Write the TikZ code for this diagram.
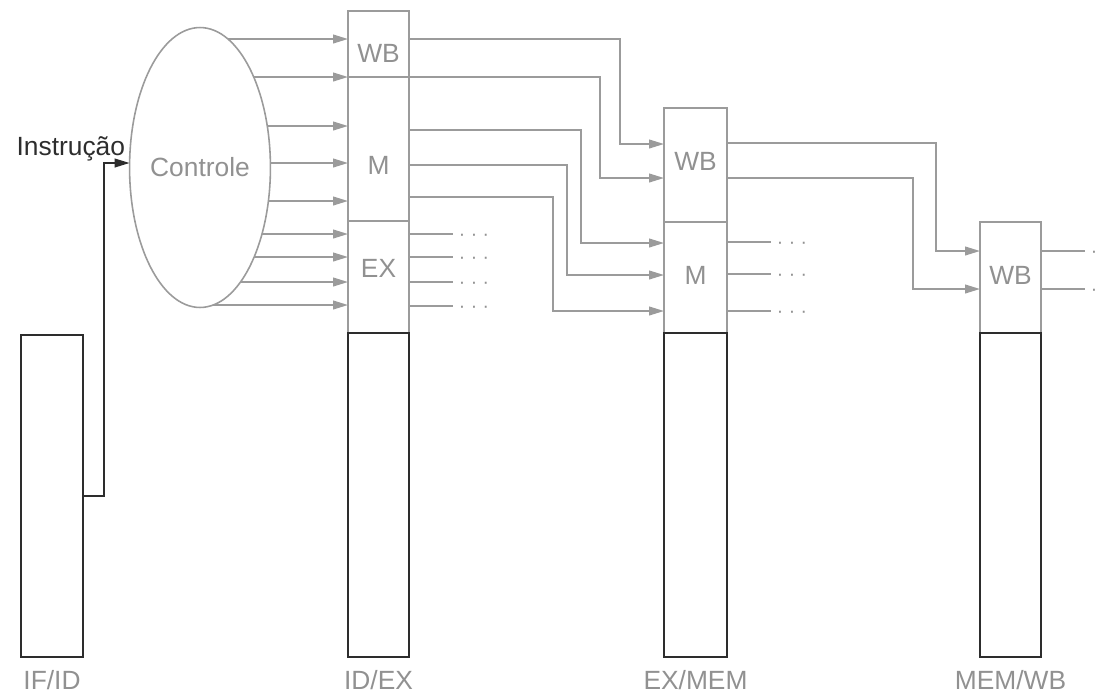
\documentclass[tikz,border=0pt]{standalone}
\usepackage{fontspec}
\setmainfont{Liberation Sans}
\definecolor{LinhaCinza}{RGB}{155,155,155}
\definecolor{TextoCinza}{RGB}{145,145,145}
\definecolor{LinhaEscura}{RGB}{45,45,45}
\usetikzlibrary{arrows.meta, positioning, shapes.geometric, backgrounds}

\begin{document}
\begin{tikzpicture}[
    x=0.02cm, y=-0.02cm,
    node distance=0.27cm,
    every node/.style={font=\fontsize{15}{18}\selectfont, inner sep=0pt, outer sep=0pt},
    campo/.style={draw=LinhaCinza, line width=0.9pt, anchor=north west},
    registo/.style={draw=LinhaEscura, line width=0.9pt, anchor=north west, minimum height=6.48cm},
    rotulo/.style={text=TextoCinza},
    sinal/.style={draw=LinhaCinza, line width=0.9pt, -{Triangle[length=8.5pt, width=5pt]}},
    fio/.style={draw=LinhaCinza, line width=0.9pt},
    pontos/.style={text=TextoCinza, font=\fontsize{11}{11}\selectfont, right=0.12cm, yshift=-0.06cm}
]
\useasboundingbox (0,0) rectangle (1103,694);

% campos de controle
\node[campo, minimum width=1.22cm, minimum height=1.32cm] (idexwb) at (348,11) {};
\node[campo, minimum width=1.22cm, minimum height=2.88cm] (idexm) at (348,77) {};
\node[campo, minimum width=1.22cm, minimum height=2.24cm] (idexex) at (348,221) {};
\node[campo, minimum width=1.26cm, minimum height=2.28cm] (exmemwb) at (664,108) {};
\node[campo, minimum width=1.26cm, minimum height=2.22cm] (exmemm) at (664,222) {};
\node[campo, minimum width=1.22cm, minimum height=2.22cm] (memwbwb) at (980,222) {};

\node[rotulo] (tidexwb) at (378.5,53) {WB};
\node[rotulo] (tidexm) at (378.5,165) {M};
\node[rotulo] (tidexex) at (378.5,268) {EX};
\node[rotulo] (texmemwb) at (695.5,161) {WB};
\node[rotulo] (texmemm) at (695.5,275) {M};
\node[rotulo] (tmemwbwb) at (1010.5,275) {WB};

% registradores de pipeline
\node[registo, minimum width=1.24cm, minimum height=6.44cm] (ifid) at (21,335) {};
\node[registo, minimum width=1.22cm] (idex) at (348,333) {};
\node[registo, minimum width=1.26cm] (exmem) at (664,333) {};
\node[registo, minimum width=1.22cm] (memwb) at (980,333) {};
\foreach \r in {idex, exmem, memwb}
  \draw[LinhaEscura, line width=1.6pt] (\r.north west) -- (\r.north east);

\node[rotulo, below=of ifid] (lifid) {IF/ID};
\node[rotulo, below=of idex] (lidex) {ID/EX};
\node[rotulo, below=of exmem] (lexmem) {EX/MEM};
\node[rotulo, below=of memwb] (lmemwb) {MEM/WB};

% unidade de controle
\node[ellipse, draw=LinhaCinza, line width=0.9pt, fill=white, text=TextoCinza,
      minimum width=2.66cm, minimum height=5.6cm] (ctrl) at (200,167.5) {Controle};
\begin{scope}[on background layer]
\foreach \y in {39, 77, 126, 163, 201, 234, 257, 282, 305}
  \draw[sinal] (ctrl.center |- 0,\y) -- (idexwb.west |- 0,\y);
\end{scope}

% instrucao
\coordinate (desvio) at (104,163);
\draw[LinhaEscura, line width=0.9pt, -{Triangle[length=8.5pt, width=5pt]}]
  (ifid.east |- 0,496) -| (desvio) -- (ctrl.west |- desvio);
\node[anchor=base east, text=LinhaEscura] (instr) at (125,155) {Instrução};

% ID/EX -> EX/MEM
\foreach \src/\a/\x/\b/\dst in {idexwb/39/620/144/exmemwb, idexwb/77/600/178/exmemwb,
    idexm/130/581/243/exmemm, idexm/165/567/275/exmemm, idexm/197/553/311/exmemm}
  \draw[sinal] (\src.east |- 0,\a) -| (\x,\b) -- (\dst.west |- 0,\b);
\foreach \y [count=\i] in {234, 257, 282, 306}
  \draw[fio] (idexex.east |- 0,\y) -- ++(44,0) node[pontos] (pex\i) {· · ·};

% EX/MEM -> MEM/WB
\foreach \a/\x/\b in {143/936/251, 178/913/289}
  \draw[sinal] (exmemwb.east |- 0,\a) -| (\x,\b) -- (memwbwb.west |- 0,\b);
\foreach \y [count=\i] in {242, 274, 311}
  \draw[fio] (exmemm.east |- 0,\y) -- ++(44,0) node[pontos] (pm\i) {· · ·};

% MEM/WB
\foreach \y [count=\i] in {251, 289}
  \draw[fio] (memwbwb.east |- 0,\y) -- ++(44,0) node[pontos] (pwb\i) {· · ·};
\end{tikzpicture}
\end{document}
